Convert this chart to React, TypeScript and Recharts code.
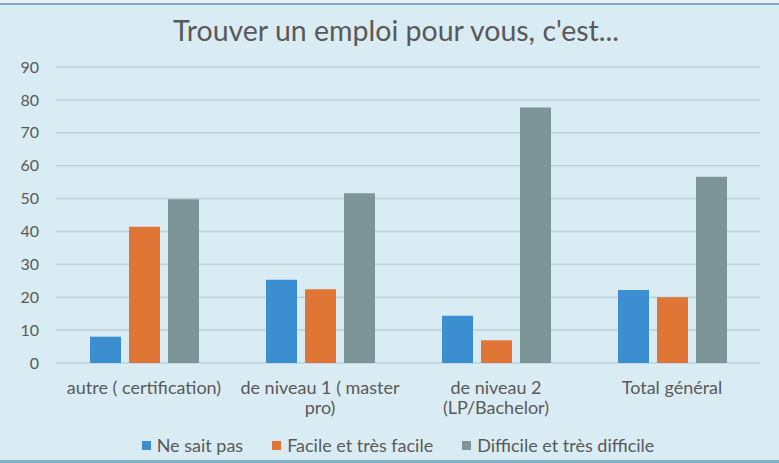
import React from "react";
import { BarChart, Bar, XAxis, YAxis, CartesianGrid } from "recharts";

const categories = [
  "autre ( certification)",
  "de niveau 1 ( master\npro)",
  "de niveau 2\n(LP/Bachelor)",
  "Total général",
];
const neSaitPas = [8, 25.3, 14.4, 22.2];
const facile = [41.4, 22.4, 6.9, 20];
const difficile = [49.8, 51.6, 77.7, 56.6];
const yTicks = [0, 10, 20, 30, 40, 50, 60, 70, 80, 90];

const series = [
  { key: "neSaitPas", name: "Ne sait pas", color: "#3b8fd0" },
  { key: "facile", name: "Facile et très facile", color: "#e07536" },
  { key: "difficile", name: "Difficile et très difficile", color: "#7e9598" },
];

const data = categories.map((c, i) => ({
  category: c,
  neSaitPas: neSaitPas[i],
  facile: facile[i],
  difficile: difficile[i],
}));

const font = "Lato, 'Open Sans', sans-serif";
const textColor = "#595959";

const CategoryTick = (props: any) => {
  const { x, y, payload } = props;
  const lines = String(payload.value).split("\n");
  return (
    <g transform={`translate(${x},${y})`}>
      {lines.map((line, i) => (
        <text
          key={i}
          x={0}
          y={23 + i * 20}
          textAnchor="middle"
          fill={textColor}
          fontSize={18}
          fontFamily={font}
        >
          {line}
        </text>
      ))}
    </g>
  );
};

export default function App() {
  return (
    <div
      style={{
        position: "absolute",
        left: 0,
        top: 0,
        width: 779,
        height: 463,
        background: "#daecf3",
        overflow: "hidden",
      }}
    >
      <div style={{ position: "absolute", left: 0, top: 0, width: 779, height: 3, background: "#e6f1f6" }} />
      <div style={{ position: "absolute", left: 0, top: 3, width: 779, height: 2, background: "#7fa8c1" }} />
      <div style={{ position: "absolute", left: 0, top: 460, width: 779, height: 3, background: "#7fb2c4" }} />
      <div
        style={{
          position: "absolute",
          left: 0,
          top: 16,
          width: 792,
          textAlign: "center",
          fontFamily: font,
          fontSize: 28.5,
          lineHeight: 1,
          color: textColor,
        }}
      >
        Trouver un emploi pour vous, c'est...
      </div>
      <div style={{ position: "absolute", left: 0, top: 0 }}>
        <BarChart
          width={779}
          height={463}
          data={data}
          margin={{ top: 67, right: 19, left: 0, bottom: 38 }}
          barSize={31}
          barGap={8}
        >
          <CartesianGrid vertical={false} stroke="#bcd2da" strokeWidth={1.5} />
          <XAxis
            dataKey="category"
            axisLine={false}
            tickLine={false}
            height={62}
            interval={0}
            tick={<CategoryTick />}
          />
          <YAxis
            domain={[0, 90]}
            ticks={yTicks}
            width={56}
            axisLine={false}
            tickLine={false}
            tickSize={0}
            tickMargin={17}
            tick={{ fill: textColor, fontSize: 16, fontFamily: font }}
          />
          {series.map((s) => (
            <Bar key={s.key} dataKey={s.key} name={s.name} fill={s.color} isAnimationActive={false} />
          ))}
        </BarChart>
      </div>
      <div
        style={{
          position: "absolute",
          left: 0,
          top: 434,
          width: 796,
          display: "flex",
          justifyContent: "center",
          gap: 29,
          fontFamily: font,
          fontSize: 18,
          lineHeight: "22px",
          color: textColor,
        }}
      >
        {series.map((s) => (
          <div key={s.key} style={{ display: "flex", alignItems: "center" }}>
            <span style={{ width: 9, height: 9, background: s.color, marginRight: 6, display: "inline-block" }} />
            <span>{s.name}</span>
          </div>
        ))}
      </div>
    </div>
  );
}
